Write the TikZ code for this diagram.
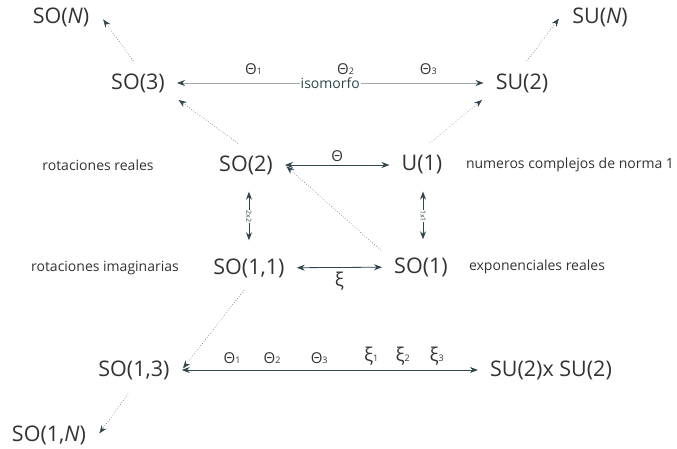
\documentclass[tikz,border=0pt]{standalone}
\usepackage{fontspec}
\setmainfont{Open Sans}
\usetikzlibrary{positioning,arrows.meta}
\definecolor{slate}{HTML}{2F464C}
\definecolor{inkgray}{HTML}{333333}
\definecolor{linegray}{HTML}{A3A8AB}
\newcommand{\idx}[1]{{\fontsize{9}{9}\selectfont #1}}

\begin{document}
\begin{tikzpicture}[x=1pt, y=-1pt, >={Stealth[length=8pt, width=6pt]},
    grp/.style={font=\fontsize{21.5}{25}\selectfont, text=inkgray, inner xsep=12pt, inner ysep=6pt},
    note/.style={font=\fontsize{14}{17}\selectfont, text=inkgray},
    par/.style={font=\fontsize{15}{17}\selectfont, text=inkgray, inner sep=1pt},
    xipar/.style={par, font=\fontsize{19}{20}\selectfont},
    link/.style={<->, draw=slate, line width=0.8pt},
    dotlink/.style={-{Stealth[length=8pt, width=6pt, color=slate]}, draw=gray!80!black, dotted, line width=0.6pt},
    dimtag/.style={font=\fontsize{7}{8}\selectfont, text=slate, fill=white, inner sep=0.5pt, rotate=-90}]
    \useasboundingbox (0, 0) rectangle (677, 449);

    % --- Groups ---
    \node[grp] (soN) at (61, 17) {SO(\textit{N})};
    \node[grp] (suN) at (600, 17) {SU(\textit{N})};
    \node[grp] (so3) at (138, 83) {SO(3)};
    \node[grp] (su2) at (522, 83) {SU(2)};
    \node[grp] (so2) at (246, 165) {SO(2)};
    \node[grp] (u1) at (422, 165) {U(1)};
    \node[grp] (so11) at (249, 268) {SO(1,1)};
    \node[grp] (so1) at (421, 267) {SO(1)};
    \node[grp] (so13) at (134, 370) {SO(1,3)};
    \node[grp] (su2su2) at (551, 370) {SU(2)x SU(2)};
    \node[grp] (so1N) at (49, 435) {SO(1,\textit{N})};

    % --- Descriptions ---
    \node[note] (realrot) at (98, 165) {rotaciones reales};
    \node[note] (cplx) at (570, 165) {numeros complejos de norma 1};
    \node[note] (imrot) at (105, 268) {rotaciones imaginarias};
    \node[note] (realexp) at (537, 267) {exponenciales reales};

    % SO(3) <-> SU(2)
    \draw[link, draw=linegray, {Stealth[length=8pt, width=6pt, color=slate]}-{Stealth[length=8pt, width=6pt, color=slate]}] (so3) -- (su2)
        node[midway, fill=white, font=\fontsize{14}{17}\selectfont, text=slate, inner sep=1pt] (iso) {isomorfo}
        node[par, pos=0.25, above=7pt] (th1) {Θ\idx{1}}
        node[par, pos=0.55, above=7pt] (th2) {Θ\idx{2}}
        node[par, pos=0.82, above=7pt] (th3) {Θ\idx{3}};

    % SO(2) <-> U(1), SO(1,1) <-> SO(1)
    \draw[link] (so2) -- (u1) node[par, midway, above=2pt] (th) {Θ};
    \draw[link] (so11) -- (so1) node[xipar, midway, below=3pt] (xi) {ξ};

    % matrix size arrows
    \draw[link, shorten <=11pt, shorten >=12pt] (so2.south -| so11) -- (so11.north) node[dimtag, midway] (d2) {2x2};
    \draw[link, shorten <=11pt, shorten >=12pt] (u1.south -| 423, 0) -- (so1.north -| 423, 0) node[dimtag, midway] (d1) {1x1};

    % SO(1,3) <-> SU(2)xSU(2)
    \draw[link] (so13) -- (su2su2)
        node[par, pos=0.17, above=5pt] (a1) {Θ\idx{1}}
        node[par, pos=0.305, above=5pt] (a2) {Θ\idx{2}}
        node[par, pos=0.464, above=5pt] (a3) {Θ\idx{3}}
        node[xipar, pos=0.64, above=3pt] (b1) {ξ\idx{1}}
        node[xipar, pos=0.746, above=3pt] (b2) {ξ\idx{2}}
        node[xipar, pos=0.861, above=3pt] (b3) {ξ\idx{3}};

    % Generalisations (dotted)
    \draw[dotlink, shorten <=8pt, shorten >=3pt] (so3.north) -- (soN.east);
    \draw[dotlink, shorten <=8pt, shorten >=2pt] (su2.north) -- (suN.west);
    \draw[dotlink, shorten <=10pt, shorten >=2pt] (so2.north) -- (so3.south east);
    \draw[dotlink, shorten <=10pt, shorten >=2pt] (u1.north) -- (su2.south west);
    \draw[dotlink, shorten <=2pt, shorten >=2pt] (so1.north west) -- (so2.east);
    \draw[dotlink, shorten <=8pt, shorten >=2pt] (so11.south) -- (so13.east);
    \draw[dotlink, shorten <=10pt, shorten >=2pt] (so13.south) -- (so1N.east);
\end{tikzpicture}
\end{document}
